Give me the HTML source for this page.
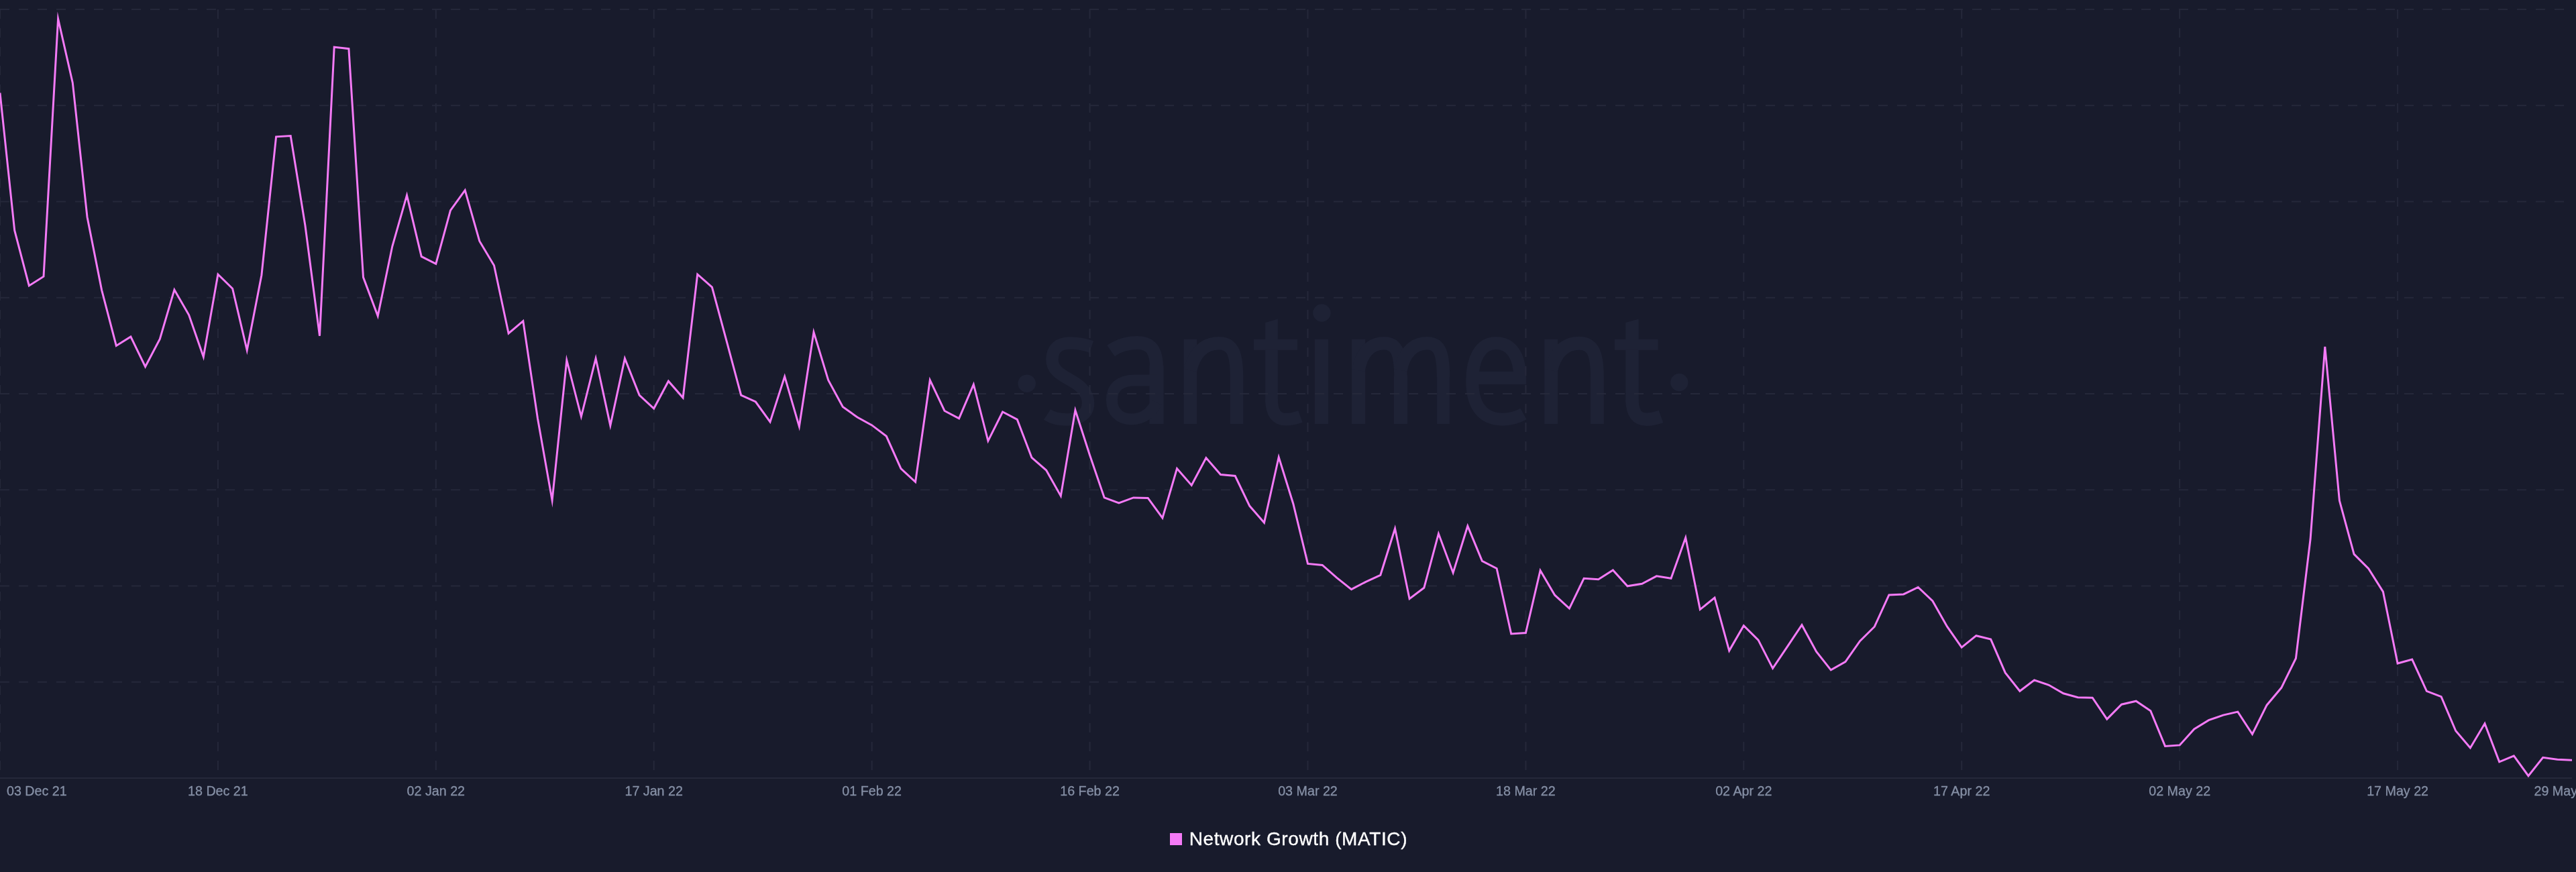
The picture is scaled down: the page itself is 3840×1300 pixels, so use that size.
<!DOCTYPE html>
<html><head><meta charset="utf-8">
<style>
html,body{margin:0;padding:0;background:#181b2c;width:3840px;height:1300px;overflow:hidden}
svg{display:block;position:absolute;left:0;top:0;will-change:transform}
</style></head>
<body>
<svg width="3840" height="1300" viewBox="0 0 3840 1300">
<rect x="0" y="0" width="3840" height="1300" fill="#181b2c"/>
<g fill="#1e2235" stroke="none">
<circle cx="1530.7" cy="571.7" r="13.3"/>
<circle cx="2503.3" cy="570" r="13.2"/>
<circle cx="1970.4" cy="466.5" r="13.2"/>
<rect x="1959.8" y="505.8" width="20.2" height="126.2"/>
<rect x="1764.7" y="505.8" width="19.5" height="126.2"/>
<rect x="1833.8" y="560" width="19.5" height="72"/>
<rect x="2302.3" y="505.8" width="19.7" height="126.2"/>
<rect x="2370.9" y="560" width="20" height="72"/>
<rect x="2014.9" y="505.8" width="20.3" height="126.2"/>
<rect x="2077.8" y="560" width="20.2" height="72"/>
<rect x="2142.1" y="560" width="18.8" height="72"/>
<rect x="1713.4" y="545" width="21.2" height="87"/>
<polygon points="1886.1,481 1904.9,475.6 1904.9,600 1886.1,600"/>
<rect x="1869" y="505.8" width="65" height="16.1"/>
<polygon points="2423.2,481 2442.7,475.6 2442.7,600 2423.2,600"/>
<rect x="2407" y="505.8" width="64.6" height="16.1"/>
</g>
<g fill="none" stroke="#1e2235" stroke-linecap="butt">
<path stroke-width="19.5" d="M1774.5,552 C1781,524 1797,511.75 1817,511.75 C1836,511.75 1843.5,524 1843.5,562"/>
<path stroke-width="19.8" d="M2312.2,552 C2318.5,524 2334,511.75 2354,511.75 C2373,511.75 2380.9,524 2380.9,562"/>
<path stroke-width="19.5" d="M2025,552 C2030,524 2045,511.75 2063,511.75 C2081,511.75 2087.9,524 2087.9,562"/>
<path stroke-width="19.5" d="M2088,552 C2093,524 2109,511.75 2127,511.75 C2145,511.75 2151.5,524 2151.5,562"/>
<path stroke-width="20" d="M1656,523 C1669,514 1682,511 1695,511 C1716,511 1724,523 1724,548"/>
<path stroke-width="17" d="M1724,567 L1692,567 C1669,567 1657.4,578 1657.4,596 C1657.4,614 1669,625 1687,625 C1705,625 1717,614 1724,600"/>
<path stroke-width="18.5" d="M1627,517 C1616,513 1606,511.5 1595,511.5 C1577,511.5 1568.5,521 1568.5,536 C1568.5,553 1583,559 1598,568 C1614,577 1622,587 1622,601 C1622,617 1609,625.5 1590,625.5 C1577,625.5 1567,622 1561,618"/>
<path stroke-width="19" d="M2195,563.4 L2265.7,563.4 C2265.7,531 2253,511.5 2230,511.5 C2206,511.5 2194.7,536 2194.7,568 C2194.7,606 2211,625.2 2240,625.2 C2253,625.2 2263,621.5 2271,617"/>
<path stroke-width="18.8" d="M1895.5,595 C1895.5,616 1903,625.2 1917,625.2 C1926,625.2 1933,623 1938.5,621"/>
<path stroke-width="19.5" d="M2433,595 C2433,616 2440.5,625.2 2454.5,625.2 C2463.5,625.2 2470.5,623 2476,621"/>
</g>
<g stroke="#25283a" stroke-width="2" stroke-dasharray="14 14" fill="none">
<line x1="0" y1="14.00" x2="3834" y2="14.00"/>
<line x1="0" y1="157.25" x2="3834" y2="157.25"/>
<line x1="0" y1="300.50" x2="3834" y2="300.50"/>
<line x1="0" y1="443.75" x2="3834" y2="443.75"/>
<line x1="0" y1="587.00" x2="3834" y2="587.00"/>
<line x1="0" y1="730.25" x2="3834" y2="730.25"/>
<line x1="0" y1="873.50" x2="3834" y2="873.50"/>
<line x1="0" y1="1016.75" x2="3834" y2="1016.75"/>
<line x1="0.0" y1="14" x2="0.0" y2="1160"/>
<line x1="324.92" y1="14" x2="324.92" y2="1160"/>
<line x1="649.83" y1="14" x2="649.83" y2="1160"/>
<line x1="974.75" y1="14" x2="974.75" y2="1160"/>
<line x1="1299.66" y1="14" x2="1299.66" y2="1160"/>
<line x1="1624.58" y1="14" x2="1624.58" y2="1160"/>
<line x1="1949.49" y1="14" x2="1949.49" y2="1160"/>
<line x1="2274.41" y1="14" x2="2274.41" y2="1160"/>
<line x1="2599.32" y1="14" x2="2599.32" y2="1160"/>
<line x1="2924.24" y1="14" x2="2924.24" y2="1160"/>
<line x1="3249.15" y1="14" x2="3249.15" y2="1160"/>
<line x1="3574.07" y1="14" x2="3574.07" y2="1160"/>
</g>
<line x1="0" y1="1160" x2="3834" y2="1160" stroke="#25283a" stroke-width="2"/>
<g font-family="Liberation Sans, sans-serif" font-size="19.7" fill="#8690a6" stroke="#8690a6" stroke-width="0.3">
<text x="10" y="1186" text-anchor="start">03 Dec 21</text>
<text x="324.9" y="1186" text-anchor="middle">18 Dec 21</text>
<text x="649.8" y="1186" text-anchor="middle">02 Jan 22</text>
<text x="974.7" y="1186" text-anchor="middle">17 Jan 22</text>
<text x="1299.7" y="1186" text-anchor="middle">01 Feb 22</text>
<text x="1624.6" y="1186" text-anchor="middle">16 Feb 22</text>
<text x="1949.5" y="1186" text-anchor="middle">03 Mar 22</text>
<text x="2274.4" y="1186" text-anchor="middle">18 Mar 22</text>
<text x="2599.3" y="1186" text-anchor="middle">02 Apr 22</text>
<text x="2924.2" y="1186" text-anchor="middle">17 Apr 22</text>
<text x="3249.2" y="1186" text-anchor="middle">02 May 22</text>
<text x="3574.1" y="1186" text-anchor="middle">17 May 22</text>
<text x="3777.5" y="1186" text-anchor="start">29 May 22</text>
</g>
<polyline points="0.0,138.4 21.7,343.4 43.3,426.0 65.0,412.2 86.6,28.0 108.3,123.4 130.0,323.5 151.6,432.3 173.3,515.4 194.9,502.0 216.6,546.7 238.3,505.4 259.9,432.0 281.6,469.6 303.3,532.0 324.9,409.0 346.6,430.2 368.2,522.0 389.9,410.2 411.6,203.8 433.2,202.5 454.9,336.0 476.5,500.7 498.2,70.2 519.9,72.7 541.5,413.4 563.2,471.1 584.8,367.3 606.5,291.2 628.2,382.4 649.8,393.3 671.5,313.6 693.2,283.7 714.8,359.4 736.5,395.8 758.1,497.0 779.8,478.6 801.5,623.9 823.1,746.0 844.8,537.0 866.4,621.0 888.1,534.3 909.8,634.3 931.4,534.5 953.1,589.1 974.7,609.0 996.4,568.2 1018.1,593.0 1039.7,409.0 1061.4,428.2 1083.1,508.4 1104.7,589.1 1126.4,599.0 1148.0,628.9 1169.7,561.4 1191.4,635.8 1213.0,495.2 1234.7,566.7 1256.3,606.5 1278.0,622.0 1299.7,633.9 1321.3,650.3 1343.0,698.6 1364.6,718.5 1386.3,566.7 1408.0,612.5 1429.6,623.9 1451.3,573.1 1472.9,657.3 1494.6,614.0 1516.3,625.4 1537.9,682.1 1559.6,701.0 1581.3,739.4 1602.9,611.5 1624.6,678.7 1646.2,741.9 1667.9,749.8 1689.6,741.9 1711.2,742.4 1732.9,772.2 1754.5,698.6 1776.2,723.4 1797.9,682.6 1819.5,707.5 1841.2,709.5 1862.8,754.3 1884.5,779.2 1906.2,681.5 1927.8,751.0 1949.5,840.4 1971.2,842.4 1992.8,861.3 2014.5,878.7 2036.1,867.3 2057.8,857.3 2079.5,788.0 2101.1,892.7 2122.8,876.3 2144.4,795.6 2166.1,853.9 2187.8,784.2 2209.4,836.4 2231.1,847.4 2252.7,945.0 2274.4,943.5 2296.1,850.4 2317.7,887.2 2339.4,907.1 2361.1,862.3 2382.7,863.8 2404.4,849.9 2426.0,873.8 2447.7,870.3 2469.4,858.8 2491.0,862.3 2512.7,801.6 2534.3,908.6 2556.0,891.0 2577.7,970.1 2599.3,932.7 2621.0,954.1 2642.6,996.4 2664.3,964.1 2686.0,931.7 2707.6,971.5 2729.3,998.9 2750.9,986.5 2772.6,955.6 2794.3,934.2 2815.9,886.9 2837.6,885.9 2859.3,875.5 2880.9,895.9 2902.6,934.2 2924.2,965.1 2945.9,947.7 2967.6,953.1 2989.2,1002.9 3010.9,1030.3 3032.5,1013.9 3054.2,1021.3 3075.9,1033.8 3097.5,1039.7 3119.2,1040.2 3140.8,1072.1 3162.5,1050.2 3184.2,1045.2 3205.8,1059.7 3227.5,1112.4 3249.2,1110.9 3270.8,1087.0 3292.5,1073.6 3314.1,1066.1 3335.8,1061.1 3357.5,1094.5 3379.1,1051.2 3400.8,1025.3 3422.4,981.5 3444.1,803.5 3465.8,516.8 3487.4,746.3 3509.1,826.1 3530.7,847.7 3552.4,882.1 3574.1,989.0 3595.7,983.0 3617.4,1030.3 3639.1,1038.7 3660.7,1089.5 3682.4,1114.9 3704.0,1078.6 3725.7,1135.8 3747.4,1126.8 3769.0,1156.7 3790.7,1129.3 3812.3,1132.3 3834.0,1133.3" fill="none" stroke="#f47af6" stroke-width="3" stroke-linejoin="miter" stroke-miterlimit="10"/>
<rect x="1744" y="1242" width="18" height="18" fill="#f47af6"/>
<text x="1772.7" y="1260.2" font-family="Liberation Sans, sans-serif" font-size="28" letter-spacing="0.6" fill="#ffffff" stroke="#ffffff" stroke-width="0.35">Network Growth (MATIC)</text>
</svg>
</body></html>
